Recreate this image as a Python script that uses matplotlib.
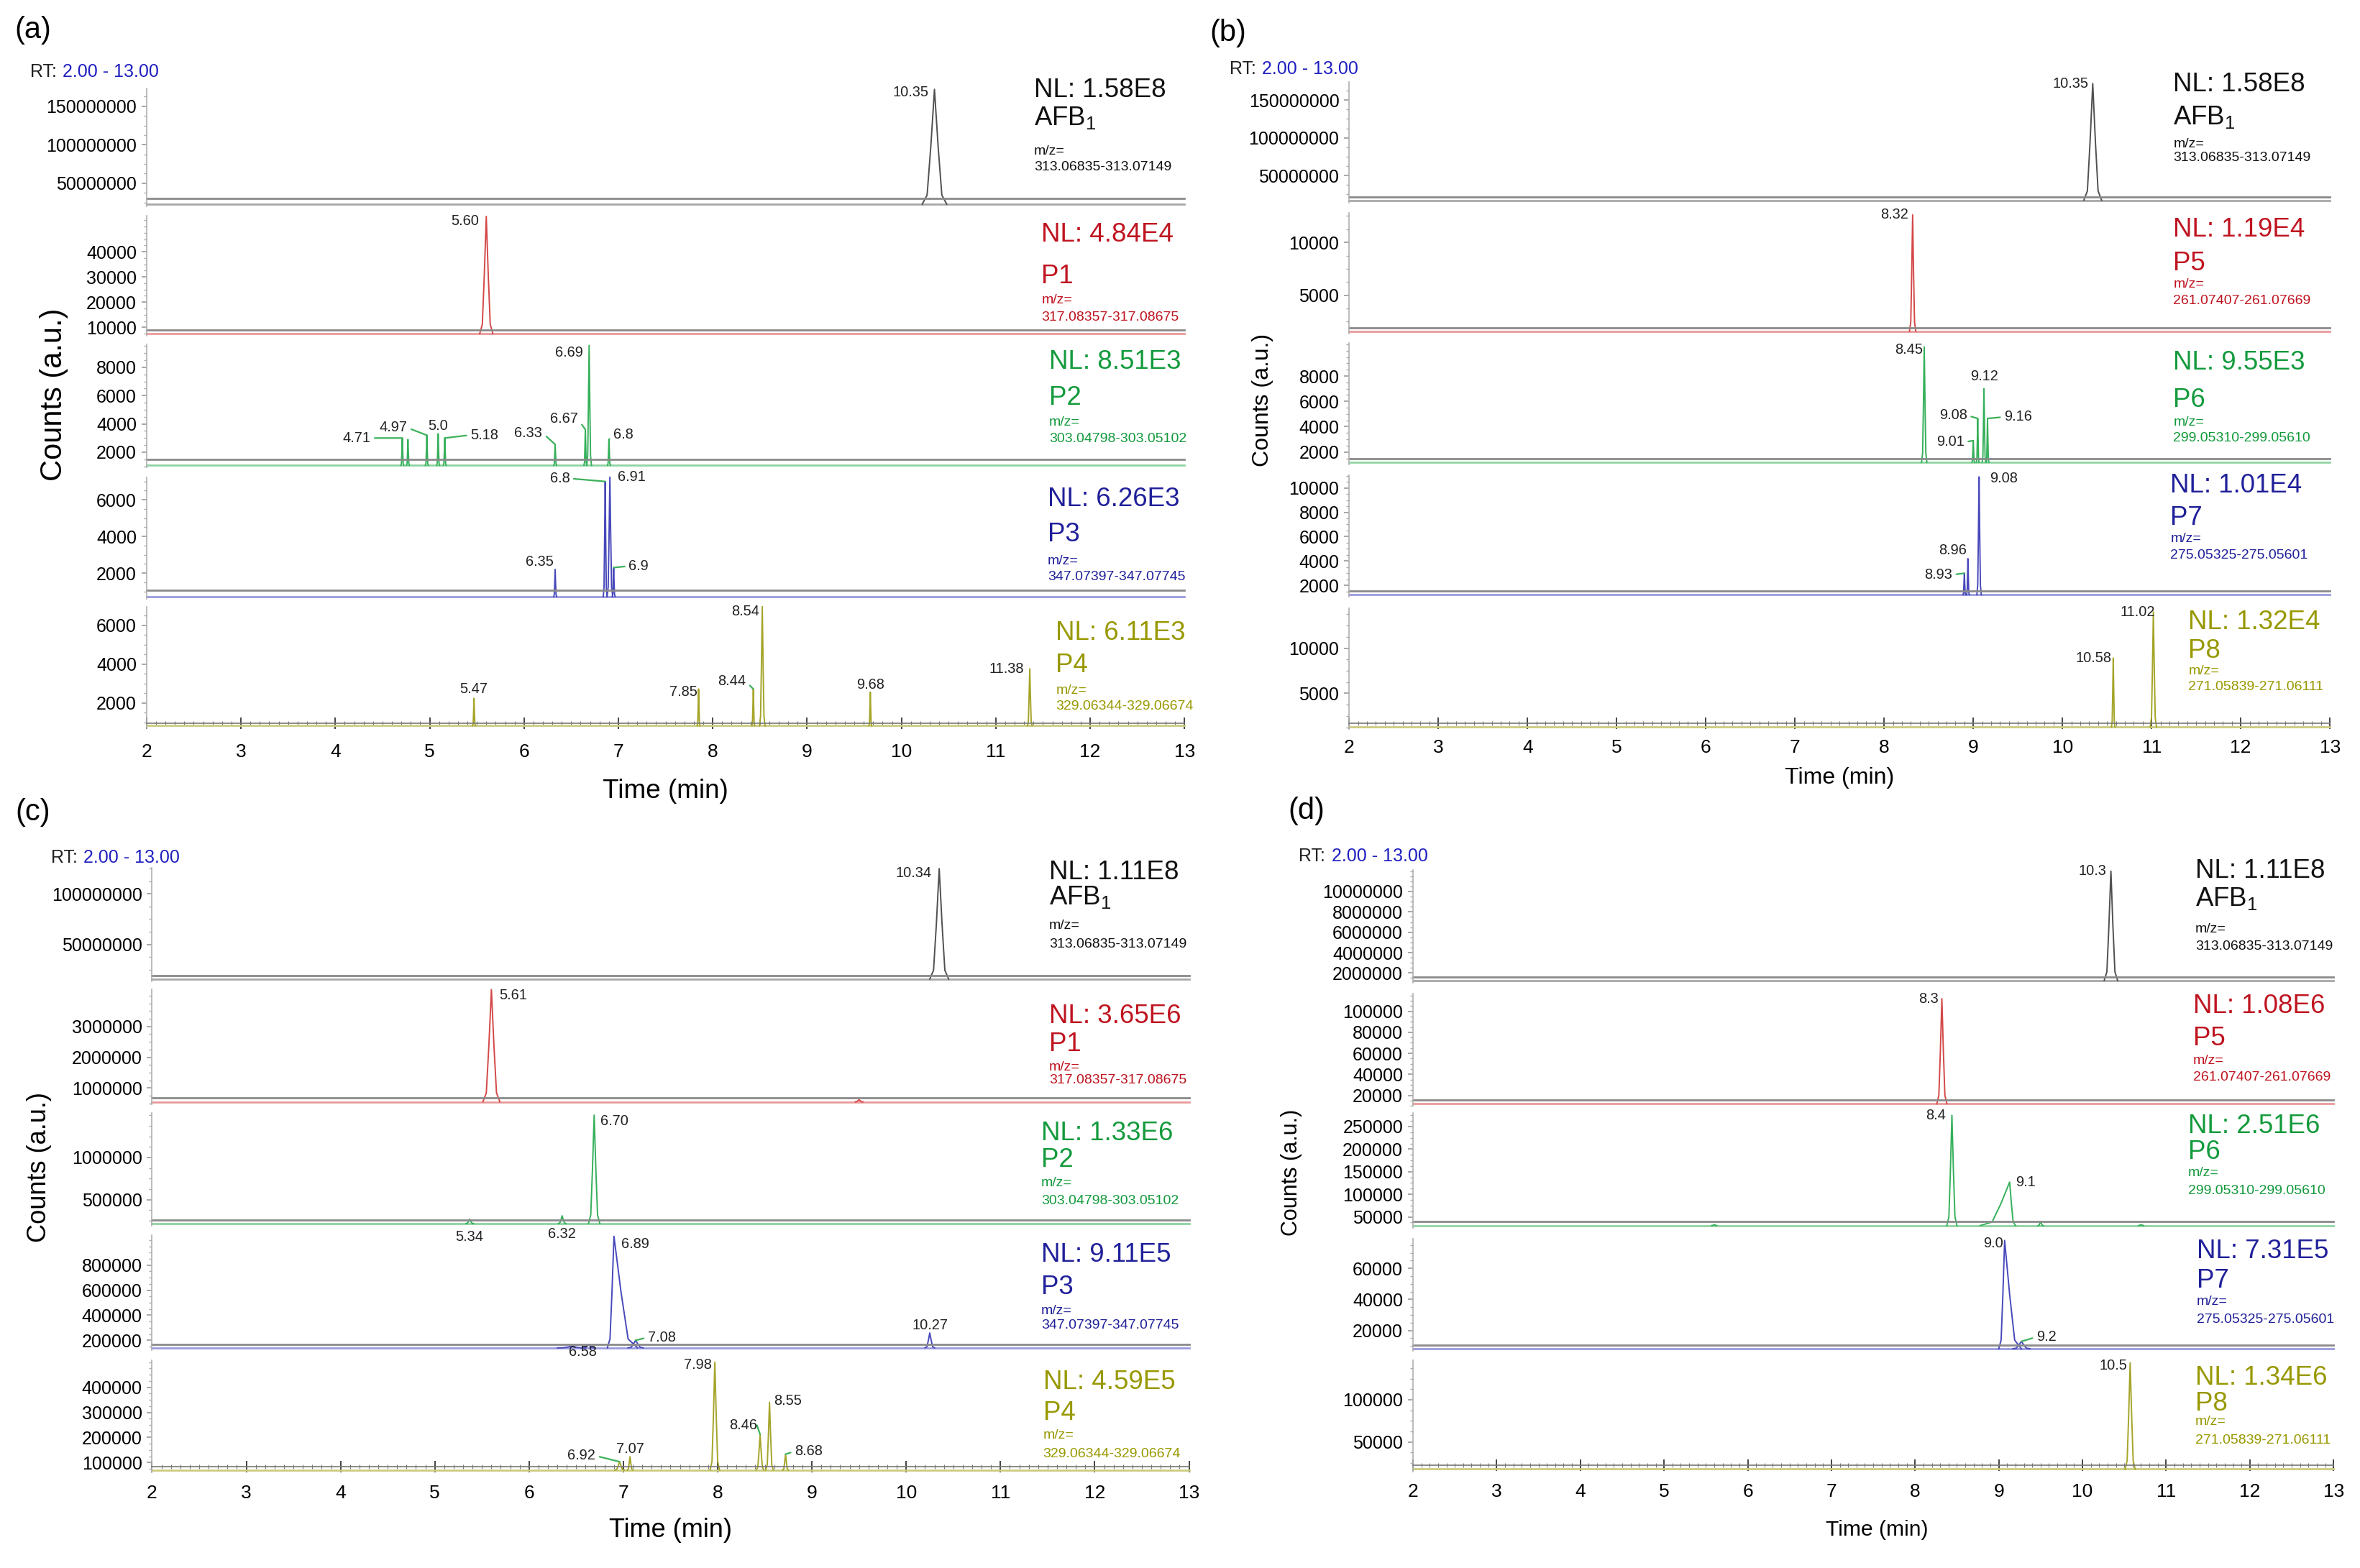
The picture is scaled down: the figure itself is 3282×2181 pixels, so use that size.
import matplotlib
matplotlib.use('Agg')
import matplotlib.pyplot as plt
from matplotlib.ticker import MultipleLocator, AutoMinorLocator, FuncFormatter

plt.rcParams['font.family'] = ['Liberation Sans', 'DejaVu Sans']
plt.rcParams['mathtext.default'] = 'regular'

# ---------------- values ----------------
t_ticks = list(range(2, 14))

# panel (a)
a_nl = ['1.58E8', '4.84E4', '8.51E3', '6.26E3', '6.11E3']
a_cmp = ['AFB$_1$', 'P1', 'P2', 'P3', 'P4']
a_mz = ['313.06835-313.07149', '317.08357-317.08675', '303.04798-303.05102',
        '347.07397-347.07745', '329.06344-329.06674']
a_top = [172.7e6, 54300, 9610, 7243, 6960]
a_base = [22.7e6, 7450, 1073, 723, 832]
a_ticks = [[50000000, 100000000, 150000000], [10000, 20000, 30000, 40000],
           [2000, 4000, 6000, 8000], [2000, 4000, 6000], [2000, 4000, 6000]]
# (rt, height, half width left, half width right)
a_peaks = [
    [(10.35, 172e6, .13, .13)],
    [(5.60, 54000, .07, .07)],
    [(4.71, 3000, .015, .015), (4.77, 2900, .015, .015), (4.97, 3200, .015, .015),
     (5.09, 3300, .015, .015), (5.16, 3000, .015, .015), (6.33, 2550, .015, .015),
     (6.65, 3600, .015, .015), (6.69, 9550, .025, .025), (6.90, 2900, .015, .015)],
    [(6.33, 2200, .015, .015), (6.86, 7000, .02, .02), (6.91, 7240, .03, .03),
     (6.95, 2300, .015, .015)],
    [(5.47, 2240, .015, .015), (7.85, 2720, .015, .015), (8.43, 2720, .015, .015),
     (8.525, 6950, .03, .03), (9.67, 2560, .015, .015), (11.36, 3760, .025, .025)],
]
a_labels = [['10.35'], ['5.60'],
            ['4.71', '', '4.97', '5.0', '5.18', '6.33', '6.67', '6.69', '6.8'],
            ['6.35', '6.8', '6.91', '6.9'],
            ['5.47', '7.85', '8.44', '8.54', '9.68', '11.38']]

# panel (b)
b_nl = ['1.58E8', '1.19E4', '9.55E3', '1.01E4', '1.32E4']
b_cmp = ['AFB$_1$', 'P5', 'P6', 'P7', 'P8']
b_mz = ['313.06835-313.07149', '261.07407-261.07669', '299.05310-299.05610',
        '275.05325-275.05601', '271.05839-271.06111']
b_top = [173.8e6, 12770, 10600, 11050, 14375]
b_base = [17e6, 1600, 1190, 1240, 1310]
b_ticks = [[50000000, 100000000, 150000000], [5000, 10000], [2000, 4000, 6000, 8000],
           [2000, 4000, 6000, 8000, 10000], [5000, 10000]]
b_peaks = [
    [(10.34, 172e6, .1, .1)],
    [(8.32, 12600, .035, .035)],
    [(8.45, 10300, .03, .03), (9.00, 2900, .015, .015), (9.05, 4650, .015, .015),
     (9.12, 7000, .02, .02), (9.16, 4650, .015, .015)],
    [(8.90, 3000, .015, .015), (8.94, 4200, .015, .015), (9.065, 10900, .025, .025)],
    [(10.57, 8900, .02, .02), (11.02, 14000, .035, .035)],
]
b_labels = [['10.35'], ['8.32'], ['8.45', '9.01', '9.08', '9.12', '9.16'],
            ['8.93', '8.96', '9.08'], ['10.58', '11.02']]

# panel (c)
c_nl = ['1.11E8', '3.65E6', '1.33E6', '9.11E5', '4.59E5']
c_cmp = a_cmp
c_mz = a_mz
c_top = [126e6, 4.22e6, 1.53e6, 1.037e6, 508e3]
c_base = [15.7e6, 0.55e6, 0.218e6, 140e3, 70e3]
c_ticks = [[50000000, 100000000], [1000000, 2000000, 3000000], [500000, 1000000],
           [200000, 400000, 600000, 800000], [100000, 200000, 300000, 400000]]
c_peaks = [
    [(10.35, 125e6, .1, .1)],
    [(5.60, 4.2e6, .09, .09), (9.50, 0.62e6, .04, .04)],
    [(5.37, 0.27e6, .04, .04), (6.35, 0.31e6, .04, .04), (6.69, 1.5e6, .06, .06)],
    [(6.45, 152e3, .15, .15), (6.63, 165e3, .06, .06), (6.90, 1030e3, .07, .25),
     (7.13, 200e3, .08, .08), (10.25, 259e3, .05, .05)],
    [(6.96, 103e3, .05, .05), (7.07, 123e3, .03, .03), (7.97, 500e3, .05, .05),
     (8.45, 212e3, .04, .04), (8.55, 340e3, .04, .04), (8.72, 133e3, .03, .03)],
]
c_labels = [['10.34'], ['5.61', ''], ['5.34', '6.32', '6.70'],
            ['', '6.58', '6.89', '7.08', '10.27'],
            ['6.92', '7.07', '7.98', '8.46', '8.55', '8.68']]

# panel (d)
d_nl = ['1.11E8', '1.08E6', '2.51E6', '7.31E5', '1.34E6']
d_cmp = b_cmp
d_mz = b_mz
d_top = [12.1e6, 116.5e3, 280.8e3, 79e3, 147e3]
d_base = [1.26e6, 12e3, 30.8e3, 8.2e3, 17.6e3]
d_ticks = [[2000000, 4000000, 6000000, 8000000, 10000000],
           [20000, 40000, 60000, 80000, 100000],
           [50000, 100000, 150000, 200000, 250000], [20000, 40000, 60000], [50000, 100000]]
d_peaks = [
    [(10.34, 12.0e6, .08, .08)],
    [(8.32, 112e3, .06, .06)],
    [(5.60, 33e3, .03, .03), (8.44, 275e3, .06, .06), (9.13, 127e3, .35, .07),
     (9.50, 40e3, .03, .03), (10.70, 33e3, .03, .03)],
    [(9.07, 78e3, .07, .2), (9.27, 12.9e3, .1, .1)],
    [(10.57, 144e3, .06, .06)],
]
d_labels = [['10.3'], ['8.3'], ['', '8.4', '9.1', '', ''], ['9.0', '9.2'], ['10.5']]

# ---------------- styling / layout (reference px, 1568 x 1042) ----------------
W, H = 1568.0, 1042.0
PT = 3282 / W * 72 / 200.0          # points per reference px

LINE_C = ['#505050', '#d44848', '#35b05a', '#4848bb', '#a5a52a']
BASE_C = ['#a8a8a8', '#e99a9a', '#8fd4a2', '#9a9ade', '#cccc80']
TEXT_C = ['#111111', '#bf1420', '#139a3c', '#20209a', '#989800']
LEAD = '#3cb15a'
GREY = '#8a8a8a'

PROF_X = [-1.0, -0.6, -0.3, 0.0, 0.3, 0.6, 1.0]
PROF_Y = [0.0, 0.08, 0.5, 1.0, 0.5, 0.08, 0.0]

# label offsets (dx, dy in ref px, ha, leader)
a_offs = [[(-4, -2, 'right', 0)], [(-5, -3, 'right', 0)],
          [(-21, 0, 'right', 1), None, (-13, 5, 'right', 1), (0, 5, 'center', 0),
           (17, 2, 'left', 1), (-8.5, 7.7, 'right', 1), (-5, 7, 'right', 1),
           (-4, -5, 'right', 0), (3, 3, 'left', 1)],
          [(-1, 5, 'right', 0), (-23.5, 2, 'right', 1), (5, 0, 'left', 0), (10, 1, 'left', 1)],
          [(0, 6, 'center', 0), (-1, -2, 'right', 0), (-5, 5, 'right', 1),
           (-2, -3, 'right', 0), (0, 5, 'center', 0), (-4, 0, 'right', 0)]]
b_offs = [[(-3, 0, 'right', 0)], [(-3, 0, 'right', 0)],
          [(-1, -2, 'right', 0), (-6, -1, 'right', 1), (-7, 2, 'right', 1),
           (0, 8, 'center', 0), (11, 1, 'left', 1)],
          [(-8, -1, 'right', 1), (-1, 5.5, 'right', 0), (7, -1, 'left', 0)],
          [(-1, 0, 'right', 0), (1, 0, 'right', 0)]]
c_offs = [[(-5, -3, 'right', 0)], [(5, -4, 'left', 0), None],
          [(0, -12, 'center', 0), (0, -12, 'center', 0), (4, -4, 'left', 0)],
          [None, (-4, -5, 'center', 0), (5, -5, 'left', 0), (8, 2, 'left', 1), (0, 5, 'center', 0)],
          [(-16, 4, 'right', 1), (0, 5, 'center', 0), (-2, -2, 'right', 0),
           (-2, 6, 'right', 1), (3, 1, 'left', 0), (6, 2, 'left', 1)]]
d_offs = [[(-3, 0, 'right', 0)], [(-2, 0, 'right', 0)],
          [None, (-4, 0, 'right', 0), (4, 0, 'left', 0), None, None],
          [(-1, -2, 'right', 0), (10, 3, 'left', 1)], [(-2, -2, 'right', 0)]]

panels = [
    dict(nl=a_nl, cmp=a_cmp, mz=a_mz, top=a_top, base=a_base, ticks=a_ticks,
         peaks=a_peaks, labels=a_labels, offs=a_offs,
         left=97.4, right=787, tops=[59, 143.3, 229, 317, 403],
         bots=[135.7, 221.8, 309.2, 396.4, 482.3], grey=[3.8, 2.6, 4.1, 4.1, 1.7],
         tx=[687, 692, 697, 696, 701.5], nl_y=[60, 156, 240.5, 331.6, 420.6],
         nm_y=[78.5, 183.5, 264.3, 355.4, 442.4], mz1_y=[100.7, 199.7, 280.9, 373, 459],
         mz2_y=[111, 210.7, 291.8, 383.4, 469.3], xpad=7.5,
         tag=('(a)', 22, 20), rt=(20, 48), xl=(442, 526, 13.3), yl=(36, 262, 15)),
    dict(nl=b_nl, cmp=b_cmp, mz=b_mz, top=b_top, base=b_base, ticks=b_ticks,
         peaks=b_peaks, labels=b_labels, offs=b_offs,
         left=896.4, right=1548, tops=[54.6, 141.6, 228, 315.7, 404.4],
         bots=[133.1, 220.1, 307.2, 395.2, 483], grey=[2.4] * 5,
         tx=[1444, 1444, 1444, 1442, 1454], nl_y=[56, 152.6, 241, 322.5, 413.6],
         nm_y=[78, 175, 266, 344, 432.8], mz1_y=[95.6, 189, 280.5, 358, 446],
         mz2_y=[105, 200, 291, 369, 456.7], xpad=5.3,
         tag=('(b)', 816, 22), rt=(817, 46), xl=(1222, 517, 11.5), yl=(839, 266, 11.5)),
    dict(nl=c_nl, cmp=c_cmp, mz=c_mz, top=c_top, base=c_base, ticks=c_ticks,
         peaks=c_peaks, labels=c_labels, offs=c_offs,
         left=101, right=790, tops=[576.6, 657.2, 739.4, 821, 903.9],
         bots=[650.6, 732.2, 813.1, 895.7, 976.9], grey=[2.5] * 5,
         tx=[697, 697, 691.7, 691.7, 693], nl_y=[579.9, 675.3, 753, 833.8, 918.7],
         nm_y=[596.3, 694, 770.7, 855.5, 939], mz1_y=[615, 709, 786, 871, 954],
         mz2_y=[627.6, 718, 798, 880.9, 966.4], xpad=6.5,
         tag=('(c)', 22, 540), rt=(33.7, 570), xl=(445.6, 1017, 13), yl=(26, 775.6, 13)),
    dict(nl=d_nl, cmp=d_cmp, mz=d_mz, top=d_top, base=d_base, ticks=d_ticks,
         peaks=d_peaks, labels=d_labels, offs=d_offs,
         left=938.8, right=1550.4, tops=[578.2, 660.5, 739.4, 823.3, 903.9],
         bots=[651.6, 733.5, 814.4, 896.3, 976.3], grey=[2.5] * 5,
         tx=[1458.6, 1457, 1453.7, 1459.5, 1458.6], nl_y=[578.9, 668.7, 748.6, 831.5, 915.4],
         nm_y=[597.3, 690, 765.7, 851.3, 932.8], mz1_y=[617.7, 704.9, 779.5, 865, 945],
         mz2_y=[629.2, 715.7, 791.4, 876.9, 957.2], xpad=6,
         tag=('(d)', 868, 539), rt=(863, 569), xl=(1247, 1016.7, 10.8), yl=(858, 779, 11)),
]

fig = plt.figure(figsize=(16.41, 10.905), dpi=200)


def fx(x):
    return x / W


def fy(y):
    return 1 - y / H


fmt = FuncFormatter(lambda v, p: '%d' % v)

for P in panels:
    for i in range(5):
        top, bot = P['tops'][i], P['bots'][i]
        pad = 1.5
        ax = fig.add_axes([fx(P['left']), fy(bot + pad),
                           (P['right'] - P['left']) / W, (bot + pad - top) / H])
        ax.patch.set_alpha(0)
        hi, base = P['top'][i], P['base'][i]
        upp = (hi - base) / (bot - top)
        ax.set_xlim(2, 13)
        ax.set_ylim(base - pad * upp, hi)
        col = LINE_C[i]

        # trace: baseline + peaks
        ax.plot([2, 13], [base, base], color=BASE_C[i], lw=1.0, clip_on=False)
        for (rt, h, wl, wr) in P['peaks'][i]:
            xs = [rt + px * (wl if px < 0 else wr) for px in PROF_X]
            ys = [base + py * (h - base) for py in PROF_Y]
            ax.plot(xs, ys, color=col, lw=0.7, clip_on=False)

        # peak labels
        for (rt, h, wl, wr), lab, off in zip(P['peaks'][i], P['labels'][i], P['offs'][i]):
            if not lab or off is None:
                continue
            dx, dy, ha, lead = off
            rel = {'right': (1, 0.5), 'left': (0, 0.5), 'center': (0.5, 0.5)}[ha]
            arrow = dict(arrowstyle='-', color=LEAD, lw=0.8, shrinkA=0, shrinkB=0,
                         relpos=rel) if lead else None
            ax.annotate(lab, xy=(rt, h), xytext=(dx * PT, dy * PT),
                        textcoords='offset points', ha=ha, va='center',
                        fontsize=7.2, color='#222222', annotation_clip=False,
                        arrowprops=arrow)

        # y axis
        ax.set_yticks(P['ticks'][i])
        ax.yaxis.set_major_formatter(fmt)
        ax.yaxis.set_minor_locator(AutoMinorLocator(4))
        ax.tick_params(axis='y', which='major', length=2.5, width=0.6, color='#999999',
                       labelsize=9, pad=2.5)
        ax.tick_params(axis='y', which='minor', length=1.5, width=0.5, color='#aaaaaa')
        for s in ['top', 'right']:
            ax.spines[s].set_visible(False)
        ax.spines['left'].set_color('#b0b0b0')
        ax.spines['left'].set_linewidth(0.6)

        gy = base + P['grey'][i] * upp
        if i < 4:
            ax.spines['bottom'].set_visible(False)
            ax.tick_params(axis='x', which='both', bottom=False, labelbottom=False)
            ax.plot([2, 13], [gy, gy], color=GREY, lw=1.0, clip_on=False)
        else:
            ax.spines['bottom'].set_position(('data', gy))
            ax.spines['bottom'].set_color('#777777')
            ax.spines['bottom'].set_linewidth(0.6)
            ax.set_xticks(t_ticks)
            ax.xaxis.set_minor_locator(MultipleLocator(0.1))
            ax.tick_params(axis='x', which='major', direction='inout', length=5.5, width=0.7,
                           color='#444444', labelsize=9.5, pad=P['xpad'])
            ax.tick_params(axis='x', which='minor', direction='inout', length=2, width=0.4,
                           color='#777777')

        # right-hand annotations
        tc = TEXT_C[i]
        x = fx(P['tx'][i])
        fig.text(x, fy(P['nl_y'][i]), 'NL: ' + P['nl'][i], fontsize=13.2, color=tc,
                 ha='left', va='center')
        fig.text(x, fy(P['nm_y'][i]), P['cmp'][i], fontsize=13.2, color=tc,
                 ha='left', va='center')
        fig.text(x, fy(P['mz1_y'][i]), 'm/z=', fontsize=7, color=tc, ha='left', va='center')
        fig.text(x, fy(P['mz2_y'][i]), P['mz'][i], fontsize=7, color=tc, ha='left', va='center')

    # panel tag, RT range, axis titles
    tag, tx_, ty_ = P['tag']
    fig.text(fx(tx_), fy(ty_), tag, fontsize=15, ha='center', va='center')
    rx, ry = P['rt']
    t_rt = fig.text(fx(rx), fy(ry), 'RT:', fontsize=9, ha='left', va='center', color='#222222')
    ax.annotate('2.00 - 13.00', xy=(1, 0), xycoords=t_rt, xytext=(3, 0),
                textcoords='offset points', ha='left', va='bottom', fontsize=9,
                color='#2020c0')
    xlx, xly, xls = P['xl']
    fig.text(fx(xlx), fy(xly), 'Time (min)', fontsize=xls, ha='center', va='center')
    ylx, yly, yls = P['yl']
    fig.text(fx(ylx), fy(yly), 'Counts (a.u.)', fontsize=yls, ha='center', va='center',
             rotation=90)

fig.savefig('out.png', dpi=200)
